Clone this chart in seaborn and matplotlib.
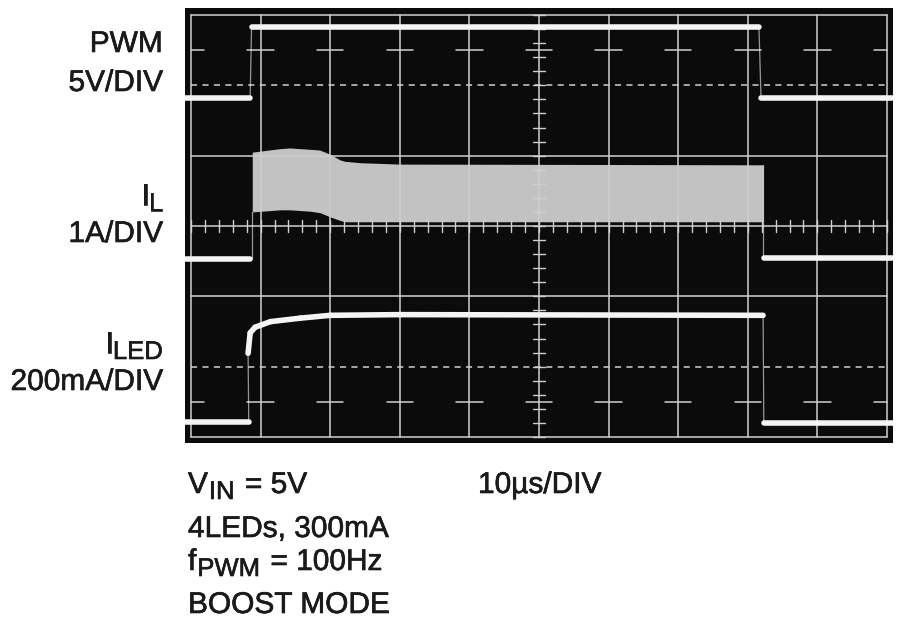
import matplotlib
matplotlib.use("Agg")
import matplotlib.pyplot as plt
import matplotlib.patheffects as pe
import seaborn as sns

# ---- data (time in us, level in screen divisions) ----
# PWM trace, 5V/DIV
pwm_time = [-1.5, 8.5, 8.7, 81.6, 81.9, 101.5]
pwm_level = [4.82, 4.82, 5.83, 5.83, 4.82, 4.82]

# inductor current I_L, 1A/DIV : off level and the switching envelope (grey band)
il_off_time = [-1.5, 8.5, 82.3, 101.5]
il_off_level = [2.53, 2.53, 2.54, 2.54]
il_env_time = [8.8, 12.8, 14.2, 17.1, 18.5, 20.0, 21.4, 22.1, 24.3, 30.0, 82.2]
il_env_top = [4.05, 4.10, 4.11, 4.09, 4.08, 4.02, 3.94, 3.92, 3.90, 3.88, 3.87]
il_env_bot = [3.20, 3.23, 3.23, 3.21, 3.19, 3.13, 3.08, 3.06, 3.06, 3.06, 3.06]

# LED current I_LED, 200mA/DIV
iled_time = [-1.5, 8.3, 8.2, 8.5, 9.2, 11.4, 15.7, 20.0, 30.0, 82.2, 82.3, 101.5]
iled_level = [0.21, 0.21, 1.19, 1.48, 1.56, 1.64, 1.69, 1.73, 1.74, 1.73, 0.20, 0.20]

time_scale = "10\u00b5s/DIV"

sns.set_style("white")
plt.rcParams["font.family"] = ["Liberation Sans", "DejaVu Sans"]

W, H = 900, 622
fig = plt.figure(figsize=(9, 6.22), dpi=100)
fig.patch.set_facecolor("white")

# screen: black area 185..893 px wide, 8..443 px high
ax = fig.add_axes([185 / W, (H - 443) / H, 708 / W, 435 / H])
ax.set_facecolor("#0b0b0b")
ylo, yhi = -6 / 70.33, 6 + 7 / 70.33
ax.set_xlim(-6 / 6.96, 100 + 6 / 6.96)
ax.set_ylim(ylo, yhi)
for s in ax.spines.values():
    s.set_visible(False)
ax.set_xticks([])
ax.set_yticks([])

trace = "#f4f4f4"
grid_c = "#cfcfcf"

# I_L envelope (under the graticule so the lines show through)
ax.fill_between(il_env_time, il_env_bot, il_env_top, color="#c2c2c2",
                lw=0, zorder=1)

# graticule
for k in range(11):
    ax.axvline(k * 10, ymin=(0 - ylo) / (yhi - ylo), ymax=(6 - ylo) / (yhi - ylo),
               color=grid_c, lw=1.1, zorder=2)
for yy in [0, 2, 3, 4, 6]:
    ax.plot([0, 100], [yy, yy], color=grid_c, lw=1.1, zorder=2)
for yy in [1, 5]:
    ax.plot([0, 100], [yy, yy], color=grid_c, lw=1.1, ls=(0, (4, 3.5)), zorder=2)
for yy in [0.5, 5.5]:
    for k in range(11):
        ax.plot([max(k * 10 - 1.9, 0), min(k * 10 + 1.9, 100)], [yy, yy],
                color=grid_c, lw=1.1, zorder=2)
for k in range(51):
    ax.plot([k * 2, k * 2], [2.91, 3.09], color=grid_c, lw=1.0, zorder=2)
for k in range(31):
    ax.plot([49.07, 50.93], [k * 0.2, k * 0.2], color=grid_c, lw=1.0, zorder=2)

# traces: thin line for the fast edges, thick line for the settled parts
def draw_trace(t, v):
    sns.lineplot(x=t, y=v, ax=ax, sort=False, estimator=None, color=trace,
                 lw=0.9, alpha=0.6, zorder=3)
    for i in range(len(t) - 1):
        if abs(v[i + 1] - v[i]) < 0.5:
            sns.lineplot(x=t[i:i + 2], y=v[i:i + 2], ax=ax, sort=False,
                         estimator=None, color=trace, lw=4.0, zorder=4,
                         solid_capstyle="round")

draw_trace(pwm_time, pwm_level)
draw_trace(iled_time, iled_level)
sns.lineplot(x=il_off_time[:2], y=il_off_level[:2], ax=ax, estimator=None,
             color=trace, lw=4.0, zorder=4, solid_capstyle="round")
sns.lineplot(x=il_off_time[2:], y=il_off_level[2:], ax=ax, estimator=None,
             color=trace, lw=4.0, zorder=4, solid_capstyle="round")
ax.plot([il_env_time[0] - 0.1] * 2, [il_off_level[1], il_env_bot[0]],
        color=trace, lw=0.9, alpha=0.6, zorder=3)
ax.plot([il_env_time[-1]] * 2, [il_env_top[-1], il_off_level[2]],
        color=trace, lw=0.9, alpha=0.6, zorder=3)

# labels (pixel positions, y measured from the top)
txt = "#1a1a1a"
fx = [pe.withStroke(linewidth=0.45, foreground=txt)]
renderer = fig.canvas.get_renderer()
BIG, SMALL = 21.5, 18.5


def put(xp, yp, s, size=BIG, ha="left"):
    t = fig.text(xp / 100, (H - yp) / 100, s, transform=fig.dpi_scale_trans,
                 ha=ha, va="baseline", fontsize=size, color=txt, path_effects=fx)
    bb = t.get_window_extent(renderer)
    return bb.x0, bb.x1


def put_sub(xp, yp, main, sub, rest="", ha="left"):
    if ha == "right":
        x0, _ = put(xp, yp + 6, sub, SMALL, ha="right")
        put(x0 + 1, yp, main, ha="right")
    else:
        _, x1 = put(xp, yp, main)
        _, x2 = put(x1 + 1, yp + 6, sub, SMALL)
        if rest:
            put(x2 + 2, yp, rest)


put(163, 52, "PWM", ha="right")
put(163, 91, "5V/DIV", ha="right")
put_sub(163, 205, "I", "L", ha="right")
put(163, 242, "1A/DIV", ha="right")
put_sub(163, 353, "I", "LED", ha="right")
put(163, 390, "200mA/DIV", ha="right")

put_sub(188, 493, "V", "IN", " = 5V")
put(188, 537, "4LEDs, 300mA")
put_sub(188, 570, "f", "PWM", " = 100Hz")
put(188, 613, "BOOST MODE")
put(478, 493, time_scale)

fig.savefig("out.png", dpi=100, facecolor="white")
